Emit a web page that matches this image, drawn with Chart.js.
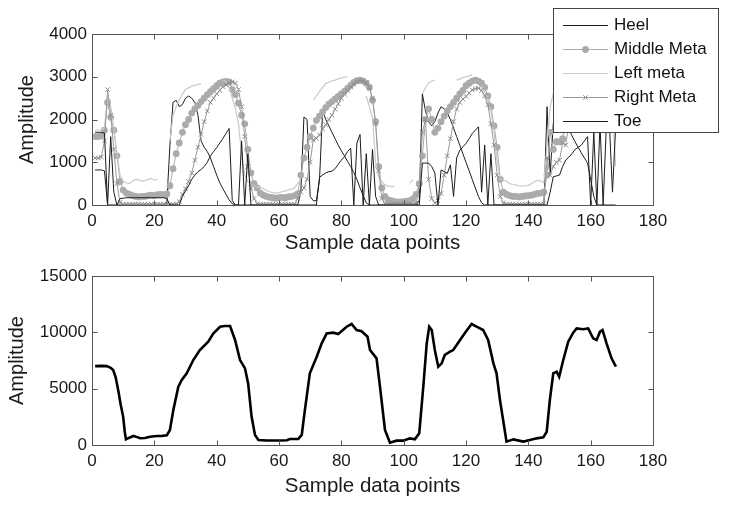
<!DOCTYPE html>
<html><head><meta charset="utf-8">
<script src="https://cdn.jsdelivr.net/npm/chart.js@4.4.0/dist/chart.umd.min.js"></script>
<style>
html,body{margin:0;padding:0;background:#fff;}
#wrap{position:relative;width:729px;height:505px;overflow:hidden;}
canvas{position:absolute;left:0;}
#c1{top:0;} #c2{top:260px;}
</style></head><body>
<div id="wrap"><canvas id="c1" width="729" height="260"></canvas><canvas id="c2" width="729" height="245"></canvas></div>
<script>
// ---------- data ----------
const seriesNames = ['Heel', 'Middle Meta', 'Left meta', 'Right Meta', 'Toe'];
const xTicks = [0, 20, 40, 60, 80, 100, 120, 140, 160, 180];
const yTicksTop = [0, 1000, 2000, 3000, 4000];
const yTicksBottom = [0, 5000, 10000, 15000];
const samples = Array.from({length: 168}, (_, i) => i + 1); // sample numbers 1..168

const heel = [
 820,820,820,800,0,0,0,0,0,0,
 0,0,0,0,0,0,0,0,0,0,
 0,0,0,50,1400,2400,2450,2300,2350,2500,
 2550,2500,2400,2100,1500,1350,1250,1100,900,700,
 520,380,250,120,30,0,0,0,0,0,
 0,0,0,0,0,0,0,0,0,0,
 0,0,0,0,0,0,300,2060,2000,200,
 100,100,600,2200,2000,1850,1700,1550,1400,1270,
 1150,1020,900,760,600,400,220,50,0,0,
 0,0,0,0,0,0,0,0,0,0,
 0,0,0,0,100,2600,2200,1950,1850,1950,
 2150,2300,2250,2150,2000,1800,1600,1400,1200,1000,
 800,600,400,200,50,0,0,0,0,0,
 0,0,0,0,0,0,0,0,0,0,
 0,0,0,0,0,2300,700,1900,2100,2100,
 2000,1900,1780,1620,1480,1350,1220,1100,980,600,
 200,0,0,0,0,0,0,0
];
const middleMeta = [
 1600,1600,1620,1750,2400,2050,1750,1150,550,350,
 280,250,220,200,190,200,200,220,230,220,
 240,250,240,260,450,850,1200,1450,1700,1880,
 2000,2150,2250,2330,2420,2500,2580,2650,2720,2790,
 2850,2880,2890,2880,2700,2580,2380,2100,1900,1300,
 750,500,400,280,230,200,180,170,160,170,
 180,170,190,200,220,260,700,1100,1350,1600,
 1800,1980,2080,2180,2280,2360,2420,2480,2540,2600,
 2660,2730,2800,2870,2910,2920,2900,2850,2750,2450,
 1950,900,400,200,120,100,80,70,70,80,
 90,100,150,250,500,1150,2000,2250,2000,1700,
 1800,1950,2080,2200,2300,2400,2500,2600,2680,2790,
 2850,2900,2920,2900,2850,2750,2550,2300,1850,1350,
 600,300,250,220,200,200,190,200,210,220,
 230,250,270,280,300,700,1700,1300,1480,1480,
 1550,2000,2300,2500,2650,2700,2700,2650,2600,2500,
 2450,2500,2550,2500,2300,2100,1900,1800
];
const leftMeta = [
 1750,1750,1760,1800,2500,2300,1800,1200,700,550,
 520,500,560,600,590,560,570,600,620,580,
 600,null,null,null,1500,2100,2300,2450,2600,2700,
 2740,2780,2800,2820,2840,null,null,null,null,null,
 null,2900,2900,2750,2500,2250,1900,1200,700,550,
 500,450,420,420,380,340,310,290,280,290,
 310,330,350,370,400,500,600,null,null,null,
 2450,2550,2650,2750,2840,2870,2900,2920,2950,2970,
 2990,3000,null,null,null,null,null,2550,2300,2050,
 1000,660,550,470,440,430,430,null,null,null,
 null,510,585,null,null,2600,2750,2850,2900,2920,
 null,null,null,null,null,null,2920,2950,2980,3000,
 3020,3040,null,null,2800,2650,2450,2200,1700,1000,
 600,580,560,500,480,470,450,440,450,460,
 500,550,580,560,520,1400,2300,2600,2700,2700,
 2700,2750,2800,2850,2850,2850,2800,2800,2750,2700,
 2650,2700,2700,2650,2550,2400,2300,900
];
const rightMeta = [
 1100,1100,1120,1500,2700,2100,1300,500,60,20,
 20,20,20,20,20,20,20,20,20,20,
 20,20,20,20,20,20,30,80,250,380,
 550,750,1050,1350,1650,1950,2200,2400,2500,2600,
 2680,2770,2810,2850,2880,2850,2700,2300,1600,900,
 400,150,30,20,20,20,20,20,20,20,
 20,20,20,20,20,150,300,400,600,1000,
 1520,1560,1640,1780,1880,2000,2100,2240,2370,2490,
 2590,2680,2760,2830,2880,2910,2900,2860,2750,2500,
 1900,800,150,30,20,20,20,20,20,20,
 20,20,20,50,400,1700,2000,600,150,50,
 100,270,700,1150,1550,1950,2250,2400,2480,2540,
 2620,2690,2720,2730,2680,2550,2350,1900,1400,700,
 200,50,20,20,20,20,20,20,20,20,
 20,20,20,20,30,1100,700,900,1000,1050,
 1450,1400,1900,2300,2500,2600,2650,2650,2600,2550,
 2500,2500,2550,2550,2400,2250,2100,2000
];
const toe = [
 1700,1700,1700,1680,0,1600,300,0,150,160,
 170,170,170,170,170,170,170,170,170,170,
 170,170,170,150,0,0,0,0,200,330,
 450,600,700,780,830,900,1000,1150,1250,1340,
 1450,1560,1670,1790,100,0,0,1500,0,1200,
 0,0,0,0,0,0,0,0,0,0,
 0,0,0,0,0,0,0,0,0,0,
 0,0,650,700,750,780,790,850,950,1050,
 1130,1250,1330,0,1450,1650,0,1200,0,1300,
 200,0,0,0,0,0,0,0,0,0,
 0,0,0,0,0,980,980,980,900,750,
 0,820,780,740,940,200,1100,1280,1360,1440,
 1550,1670,1750,1830,300,1400,0,1200,0,0,
 0,0,0,0,0,0,0,0,0,0,
 0,0,0,0,0,0,300,660,680,700,
 900,1050,1120,1200,1300,1350,1400,1500,1600,0,
 1700,0,1900,0,1800,1900,300,1800
];

// total amplitude (bottom panel), key points
const totalX = [1,3,4.7,6,6.8,7.6,8.4,9.2,10,10.5,10.9,12,13.3,14.5,15.4,17,18.6,20.8,22.5,24,25,26.1,27.7,28.8,30.4,32.5,34.6,37.3,38.9,41.1,42.5,44.3,45.9,47.5,49.1,50.1,51.2,52.3,53.4,56,60,62.5,63.5,66.2,67.3,68.3,69.9,72.1,73.7,75.3,77.4,79,81.7,83.3,84.9,86.5,88.4,89.2,91.3,92.4,94,95.6,97.7,99.9,102,103.6,105,106.3,107.4,108.2,109,110,111.1,112.2,113.2,114.9,115.9,118.1,119.7,121.8,123.4,125.5,127.1,128.8,129.8,130.9,132.5,133,135.2,138.4,140.5,142.7,144.8,145.9,146.9,148,149.1,149.9,151.2,152.8,154.4,155.5,157.6,159.2,160.8,161.9,163,163.8,165.1,166.7,168.1];
const totalY = [7000,7020,7000,6850,6650,6000,4880,3600,2500,1200,500,650,800,700,600,620,740,800,810,860,1330,3100,5180,5770,6360,7540,8430,9170,9900,10500,10560,10560,9320,7540,6800,5470,2520,890,450,400,400,420,530,540,890,3100,6360,7840,9020,9910,9970,9850,10500,10740,10210,10100,9615,8430,7690,5180,1330,210,385,385,590,500,1035,5180,9020,10500,10210,8430,6950,7250,7990,8280,8430,9320,9970,10740,10500,10210,9320,7250,6360,3990,1180,300,500,300,440,590,680,1180,3990,6360,6510,6060,7540,9170,9970,10350,10270,10350,9470,9320,10060,10210,9020,7690,6950];

// ---------- chart setup ----------
const FONT = "'Liberation Sans', Arial, Helvetica, sans-serif";
Chart.defaults.font.family = FONT;
Chart.defaults.color = '#1a1a1a';

const framePlugin = {
  id: 'frame',
  afterDatasetsDraw(chart) {
    const {ctx, chartArea: a, scales: {x, y}} = chart;
    ctx.save();
    ctx.strokeStyle = '#555';
    ctx.lineWidth = 1;
    const L = Math.round(a.left) + 0.5, R = Math.round(a.right) + 0.5;
    const T = Math.round(a.top) + 0.5, B = Math.round(a.bottom) + 0.5;
    ctx.strokeRect(L, T, R - L, B - T);
    ctx.beginPath();
    x.ticks.forEach(t => {
      const px = Math.round(x.getPixelForValue(t.value)) + 0.5;
      ctx.moveTo(px, B); ctx.lineTo(px, B - 5);
      ctx.moveTo(px, T); ctx.lineTo(px, T + 5);
    });
    y.ticks.forEach(t => {
      const py = Math.round(y.getPixelForValue(t.value)) + 0.5;
      ctx.moveTo(L, py); ctx.lineTo(L + 5, py);
      ctx.moveTo(R, py); ctx.lineTo(R - 5, py);
    });
    ctx.stroke();
    ctx.restore();
  }
};

const boxLegend = {
  id: 'boxLegend',
  afterDraw(chart) {
    const ctx = chart.ctx;
    ctx.save();
    ctx.fillStyle = '#fff';
    ctx.fillRect(553.5, 8.5, 165, 124);
    ctx.strokeStyle = '#444';
    ctx.lineWidth = 1;
    ctx.strokeRect(553.5, 8.5, 165, 124);
    chart.data.datasets.forEach((ds, i) => {
      const yc = Math.round(25 + i * 23.9) + 0.5;
      ctx.strokeStyle = ds.borderColor;
      ctx.lineWidth = ds.borderWidth;
      ctx.beginPath(); ctx.moveTo(563, yc); ctx.lineTo(608, yc); ctx.stroke();
      if (ds.pointRadius > 0) {
        ctx.fillStyle = ds.pointBackgroundColor;
        ctx.strokeStyle = ds.pointBorderColor;
        ctx.lineWidth = ds.pointBorderWidth;
        Chart.helpers.drawPoint(ctx, {pointStyle: ds.pointStyle, radius: ds.pointRadius, borderWidth: ds.pointBorderWidth, rotation: 0}, 585.5, yc);
      }
      ctx.fillStyle = '#111';
      ctx.font = '17px ' + FONT;
      ctx.textAlign = 'left';
      ctx.textBaseline = 'middle';
      ctx.fillText(ds.label, 614, yc);
    });
    ctx.restore();
  }
};

function xScale(titlePadBottom, height) {
  return {
    type: 'linear', min: 0, max: 180,
    afterBuildTicks: s => { s.ticks = xTicks.map(v => ({value: v})); },
    ticks: {padding: 6, color: '#1a1a1a', font: {size: 17}, maxRotation: 0, autoSkip: false, callback: v => String(v)},
    grid: {display: false, drawTicks: false},
    border: {display: false},
    title: {display: true, text: 'Sample data points', color: '#1a1a1a', font: {size: 20.5}, padding: {top: 0, bottom: titlePadBottom}},
    afterFit: s => { s.height = height; }
  };
}
function yScale(max, ticks, titlePadTop) {
  return {
    type: 'linear', min: 0, max: max,
    afterBuildTicks: s => { s.ticks = ticks.map(v => ({value: v})); },
    ticks: {padding: 5, color: '#1a1a1a', font: {size: 17}, autoSkip: false, callback: v => String(v)},
    grid: {display: false, drawTicks: false},
    border: {display: false},
    title: {display: true, text: 'Amplitude', color: '#1a1a1a', font: {size: 20}, padding: {top: titlePadTop, bottom: 0}},
    afterFit: s => { s.width = 92; }
  };
}

const lineBase = {tension: 0, pointRadius: 0, borderWidth: 1, spanGaps: false};

new Chart(document.getElementById('c1'), {
  type: 'line',
  data: {
    labels: samples,
    datasets: [
      Object.assign({}, lineBase, {label: seriesNames[0], data: heel, borderColor: '#1c1c1c', order: 5}),
      Object.assign({}, lineBase, {label: seriesNames[1], data: middleMeta, borderColor: '#ababab', pointRadius: 3.4, pointStyle: 'circle', pointBackgroundColor: '#ababab', pointBorderColor: '#ababab', pointBorderWidth: 0, order: 4}),
      Object.assign({}, lineBase, {label: seriesNames[2], data: leftMeta, borderColor: '#c9c9c9', borderWidth: 1.2, order: 3}),
      Object.assign({}, lineBase, {label: seriesNames[3], data: rightMeta, borderColor: '#9a9a9a', pointRadius: 3.2, pointStyle: 'crossRot', pointBackgroundColor: '#8a8a8a', pointBorderColor: '#8a8a8a', pointBorderWidth: 1, order: 2}),
      Object.assign({}, lineBase, {label: seriesNames[4], data: toe, borderColor: '#1c1c1c', order: 1})
    ]
  },
  options: {
    responsive: false, animation: false, events: [],
    layout: {padding: {left: 0, right: 76, top: 34, bottom: 0}},
    plugins: {legend: {display: false}, tooltip: {enabled: false}},
    scales: {x: xScale(4, 55), y: yScale(4000, yTicksTop, 15)}
  },
  plugins: [framePlugin, boxLegend]
});

new Chart(document.getElementById('c2'), {
  type: 'line',
  data: {
    datasets: [{
      label: 'Total',
      data: totalX.map((v, i) => ({x: v, y: totalY[i]})),
      borderColor: '#000', borderWidth: 2.6, pointRadius: 0, tension: 0
    }]
  },
  options: {
    responsive: false, animation: false, events: [],
    layout: {padding: {left: 0, right: 76, top: 16, bottom: 0}},
    plugins: {legend: {display: false}, tooltip: {enabled: false}},
    scales: {x: xScale(6, 60), y: yScale(15000, yTicksBottom, 5)}
  },
  plugins: [framePlugin]
});
</script>
</body></html>
